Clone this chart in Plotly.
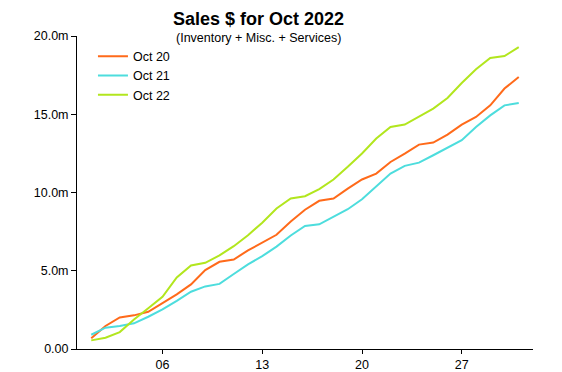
import plotly.graph_objects as go

days = list(range(1, 32))
oct20 = [0.68, 1.47, 2.02, 2.15, 2.38, 2.92, 3.49, 4.13, 5.04, 5.57, 5.72, 6.30, 6.82, 7.30, 8.15, 8.90,
         9.47, 9.62, 10.25, 10.83, 11.21, 11.95, 12.49, 13.06, 13.19, 13.70, 14.34, 14.83, 15.57, 16.64, 17.38]
oct21 = [0.91, 1.36, 1.47, 1.64, 2.06, 2.53, 3.08, 3.66, 4.00, 4.16, 4.79, 5.41, 5.93, 6.54, 7.25, 7.86,
         7.97, 8.44, 8.93, 9.57, 10.36, 11.21, 11.70, 11.91, 12.38, 12.85, 13.34, 14.19, 14.93, 15.57, 15.72]
oct22 = [0.55, 0.72, 1.08, 1.89, 2.60, 3.34, 4.57, 5.34, 5.51, 5.98, 6.57, 7.27, 8.07, 8.98, 9.62, 9.76,
         10.22, 10.83, 11.64, 12.49, 13.45, 14.19, 14.34, 14.86, 15.36, 16.04, 17.00, 17.87, 18.59, 18.72, 19.29]

series_names = ["Oct 20", "Oct 21", "Oct 22"]
series_colors = ["#FF6A1A", "#4DDDDD", "#B2E61E"]

x_tickvals = [6, 13, 20, 27]
x_ticktext = ["06", "13", "20", "27"]
y_tickvals = [0, 5, 10, 15, 20]
y_ticktext = ["0.00", "5.0m", "10.0m", "15.0m", "20.0m"]

FONT = "Liberation Sans, Arial, sans-serif"

fig = go.Figure()
for name, vals, col in zip(series_names, [oct20, oct21, oct22], series_colors):
    fig.add_trace(go.Scatter(x=days, y=vals, mode="lines", name=name,
                             line=dict(color=col, width=2)))

fig.update_layout(
    width=562, height=372,
    margin=dict(l=69, r=37, t=28, b=31, autoexpand=False),
    paper_bgcolor="white", plot_bgcolor="white",
    font=dict(family=FONT, size=12.5, color="#000000"),
    showlegend=True,
    legend=dict(x=0.035, y=0.982, xanchor="left", yanchor="top",
                bgcolor="rgba(0,0,0,0)", borderwidth=0,
                font=dict(family=FONT, size=12.5), tracegroupgap=0, itemwidth=30),
    xaxis=dict(range=[0, 32], tickmode="array", tickvals=x_tickvals, ticktext=x_ticktext,
               showline=True, linecolor="black", linewidth=1, ticks="outside", ticklen=4,
               tickcolor="black", showgrid=False, zeroline=False, automargin=False),
    yaxis=dict(range=[0, 20], tickmode="array", tickvals=y_tickvals, ticktext=y_ticktext,
               showline=True, linecolor="black", linewidth=1, ticks="outside", ticklen=5,
               tickcolor="black", showgrid=False, zeroline=False, automargin=False),
    annotations=[
        dict(text="<b>Sales $ for Oct 2022</b>", xref="paper", yref="paper", x=0.399, y=1.054,
             xanchor="center", yanchor="middle", showarrow=False,
             font=dict(family=FONT, size=18, color="black")),
        dict(text="(Inventory + Misc. + Services)", xref="paper", yref="paper", x=0.399, y=0.994,
             xanchor="center", yanchor="middle", showarrow=False,
             font=dict(family=FONT, size=12.5, color="black")),
    ],
)

fig.write_html("out.html")
